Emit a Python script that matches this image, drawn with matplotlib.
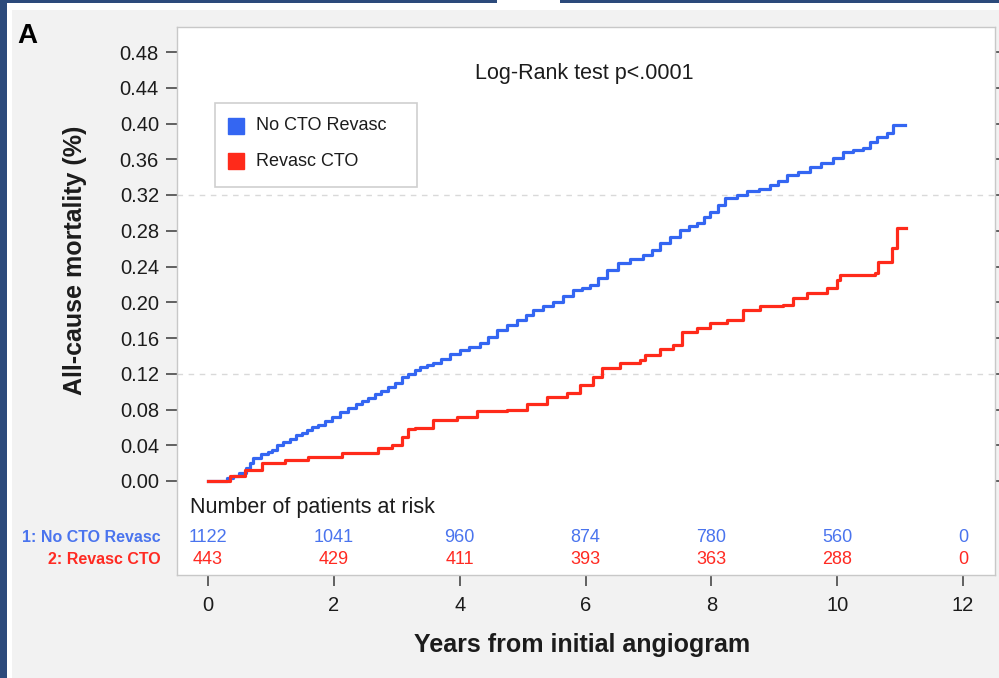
import matplotlib
matplotlib.use("Agg")
import matplotlib.pyplot as plt
from matplotlib.patches import Rectangle
from matplotlib import font_manager

# ---------------- data ----------------
blue_t = [0, 0.24, 0.30, 0.40, 0.50, 0.60, 0.66, 0.72, 0.85, 0.95, 1.02, 1.10, 1.19, 1.30, 1.40,
          1.49, 1.58, 1.65, 1.75, 1.86, 1.97, 2.10, 2.23, 2.35, 2.45, 2.54, 2.65, 2.75, 2.86,
          2.97, 3.08, 3.18, 3.29, 3.37, 3.48, 3.58, 3.70, 3.85, 4.01, 4.15, 4.32, 4.45, 4.59,
          4.75, 4.91, 5.05, 5.17, 5.33, 5.49, 5.65, 5.80, 5.95, 6.07, 6.20, 6.34, 6.52, 6.70,
          6.92, 7.05, 7.19, 7.35, 7.50, 7.65, 7.77, 7.88, 7.98, 8.10, 8.22, 8.40, 8.57, 8.75,
          8.93, 9.06, 9.20, 9.38, 9.57, 9.75, 9.94, 10.10, 10.25, 10.41, 10.52, 10.63, 10.79,
          10.89, 11.08]
blue_v = [0, 0.000, 0.003, 0.006, 0.009, 0.015, 0.020, 0.026, 0.030, 0.033, 0.035, 0.040, 0.044,
          0.047, 0.051, 0.054, 0.057, 0.060, 0.063, 0.067, 0.072, 0.077, 0.082, 0.086, 0.090,
          0.093, 0.097, 0.101, 0.105, 0.110, 0.116, 0.120, 0.124, 0.128, 0.130, 0.132, 0.137,
          0.142, 0.147, 0.150, 0.154, 0.161, 0.169, 0.174, 0.180, 0.186, 0.191, 0.196, 0.200,
          0.207, 0.214, 0.216, 0.219, 0.227, 0.236, 0.244, 0.248, 0.253, 0.259, 0.266, 0.273,
          0.281, 0.285, 0.289, 0.295, 0.301, 0.309, 0.317, 0.320, 0.324, 0.327, 0.331, 0.336,
          0.342, 0.346, 0.351, 0.356, 0.361, 0.368, 0.370, 0.373, 0.379, 0.385, 0.389, 0.398,
          0.398]

red_t = [0, 0.35, 0.59, 0.86, 1.22, 1.59, 2.13, 2.70, 2.92, 3.08, 3.18, 3.29, 3.58, 3.96, 4.28,
         4.75, 5.07, 5.39, 5.71, 5.91, 6.12, 6.26, 6.55, 6.87, 6.95, 7.19, 7.39, 7.54, 7.77,
         7.98, 8.25, 8.51, 8.78, 9.14, 9.30, 9.52, 9.84, 10.0, 10.05, 10.60, 10.65, 10.87,
         10.95, 11.10]
red_v = [0, 0.0056, 0.012, 0.020, 0.023, 0.027, 0.031, 0.037, 0.040, 0.049, 0.058, 0.059,
         0.068, 0.072, 0.078, 0.080, 0.086, 0.094, 0.098, 0.107, 0.116, 0.126, 0.132, 0.135,
         0.141, 0.148, 0.152, 0.167, 0.171, 0.177, 0.180, 0.191, 0.196, 0.197, 0.205, 0.210,
         0.216, 0.225, 0.230, 0.233, 0.245, 0.261, 0.283, 0.283]

series_names = ["No CTO Revasc", "Revasc CTO"]
risk_labels = ["1: No CTO Revasc", "2: Revasc CTO"]
risk_times = [0, 2, 4, 6, 8, 10, 12]
risk_blue = [1122, 1041, 960, 874, 780, 560, 0]
risk_red = [443, 429, 411, 393, 363, 288, 0]
y_ticks = [0.00, 0.04, 0.08, 0.12, 0.16, 0.20, 0.24, 0.28, 0.32, 0.36, 0.40, 0.44, 0.48]
x_ticks = [0, 2, 4, 6, 8, 10, 12]
grid_levels = [0.12, 0.32]

# ---------------- style ----------------
BLUE = "#3466f2"
RED = "#ff2a1a"
BLUE_T = "#4a74ee"
RED_T = "#ff2a22"
DARK = "#1c1c1c"

names = {f.name for f in font_manager.fontManager.ttflist}
BASE = "Liberation Sans" if "Liberation Sans" in names else "DejaVu Sans"
NARROW = "Liberation Sans Narrow" if "Liberation Sans Narrow" in names else None
plt.rcParams["font.family"] = [BASE, "DejaVu Sans"]

W, H = 999, 678
fig = plt.figure(figsize=(W / 100, H / 100), dpi=100)
fig.patch.set_facecolor("#f2f2f2")

def fx(px):
    return px / W

def fy(py):
    return 1 - py / H

# background frame: dark blue border, white strip, gray panel
fig.patches.append(Rectangle((0, 0), fx(7), 1, transform=fig.transFigure,
                             facecolor="#2c4a7b", edgecolor="none", zorder=-5))
fig.patches.append(Rectangle((0, fy(3)), 1, 3 / H, transform=fig.transFigure,
                             facecolor="#2c4a7b", edgecolor="none", zorder=-5))
fig.patches.append(Rectangle((fx(7), 0), fx(5), fy(3), transform=fig.transFigure,
                             facecolor="white", edgecolor="none", zorder=-4))
fig.patches.append(Rectangle((fx(7), fy(10)), 1, 7 / H, transform=fig.transFigure,
                             facecolor="white", edgecolor="none", zorder=-4))
fig.patches.append(Rectangle((fx(497), fy(10)), fx(63), 10 / H, transform=fig.transFigure,
                             facecolor="white", edgecolor="none", zorder=-4))

# axes = white box
L, R, T, B = 177, 995, 27, 575
ax = fig.add_axes([fx(L), fy(B), fx(R - L), (B - T) / H])
ax.set_facecolor("white")
x0, x12 = 208, 963
pxu = (x12 - x0) / 12.0
ax.set_xlim((L - x0) / pxu, (R - x0) / pxu)
y0p, y48p = 481, 52
pyu = (y0p - y48p) / 0.48
ax.set_ylim(-(B - y0p) / pyu, (y0p - T) / pyu)

for s in ax.spines.values():
    s.set_color("#c8c8c8")
    s.set_linewidth(1.0)

for g in grid_levels:
    ax.axhline(g, color="#d9d9d9", lw=1.0, ls=(0, (4, 4)), zorder=1)

ax.step(blue_t, blue_v, where="post", color=BLUE, lw=2.3, zorder=3)
ax.step(red_t, red_v, where="post", color=RED, lw=2.3, zorder=4)

ax.set_yticks(y_ticks)
ax.set_yticklabels([f"{v:.2f}" for v in y_ticks])
ax.set_xticks(x_ticks)
ax.set_xticklabels([str(v) for v in x_ticks])
ax.tick_params(axis="y", direction="out", length=8, width=1.3, color="#555555",
               labelsize=14.5, labelcolor=DARK, pad=5)
ax.tick_params(axis="x", direction="out", length=8, width=1.3, color="#555555",
               labelsize=14.5, labelcolor=DARK, pad=7)
ax.tick_params(axis="y", which="both", right=True, labelright=False)
for t in ax.yaxis.get_major_ticks():
    t.tick2line.set_markersize(3)
    t.tick2line.set_color("#d0d0d0")

# risk table
ax.text((190 - x0) / pxu, -(507 - y0p) / pyu, "Number of patients at risk",
        fontsize=15.5, color=DARK, ha="left", va="center")
for tt, b, r in zip(risk_times, risk_blue, risk_red):
    ax.text(tt, -(537 - y0p) / pyu, str(b), color=BLUE_T, fontsize=13,
            ha="center", va="center", clip_on=False)
    ax.text(tt, -(560 - y0p) / pyu, str(r), color=RED_T, fontsize=13,
            ha="center", va="center", clip_on=False)

if NARROW:
    lab_kw = dict(family=[NARROW, BASE], fontsize=13.5, weight="bold")
    leg_kw = dict(family=[NARROW, BASE], fontsize=14.5)
else:
    lab_kw = dict(fontsize=11.5, weight="bold")
    leg_kw = dict(fontsize=13)

fig.text(fx(161), fy(537), risk_labels[0], color=BLUE_T, ha="right", va="center", **lab_kw)
fig.text(fx(161), fy(560), risk_labels[1], color=RED_T, ha="right", va="center", **lab_kw)

# legend (box with square keys)
lx0, ly0, lx1, ly1 = 215, 103, 417, 187
ax.add_patch(Rectangle(((lx0 - x0) / pxu, -(ly1 - y0p) / pyu), (lx1 - lx0) / pxu,
                       (ly1 - ly0) / pyu, facecolor="white", edgecolor="#cfcfcf",
                       lw=1.2, zorder=6))
for name, col, yc in zip(series_names, [BLUE, RED], [126, 161]):
    ax.plot([(236 - x0) / pxu], [-(yc - y0p) / pyu], marker="s", ms=11, color=col,
            mec=col, ls="none", zorder=7)
    ax.text((256 - x0) / pxu, -(yc - y0p) / pyu, name, color=DARK, ha="left",
            va="center", zorder=7, **leg_kw)

ax.text((475 - x0) / pxu, -(73 - y0p) / pyu, "Log-Rank test p<.0001", fontsize=15.5,
        color=DARK, ha="left", va="center")

fig.text(fx(17), fy(43), "A", fontsize=20, weight="bold", color="black",
         ha="left", va="baseline")
fig.text(fx(75), fy(260), "All-cause mortality (%)", rotation=90, fontsize=18,
         weight="bold", color=DARK, ha="center", va="center")
fig.text(fx(582), fy(645), "Years from initial angiogram", fontsize=18, weight="bold",
         color=DARK, ha="center", va="center")

fig.savefig("out.png", dpi=100, facecolor=fig.get_facecolor())
